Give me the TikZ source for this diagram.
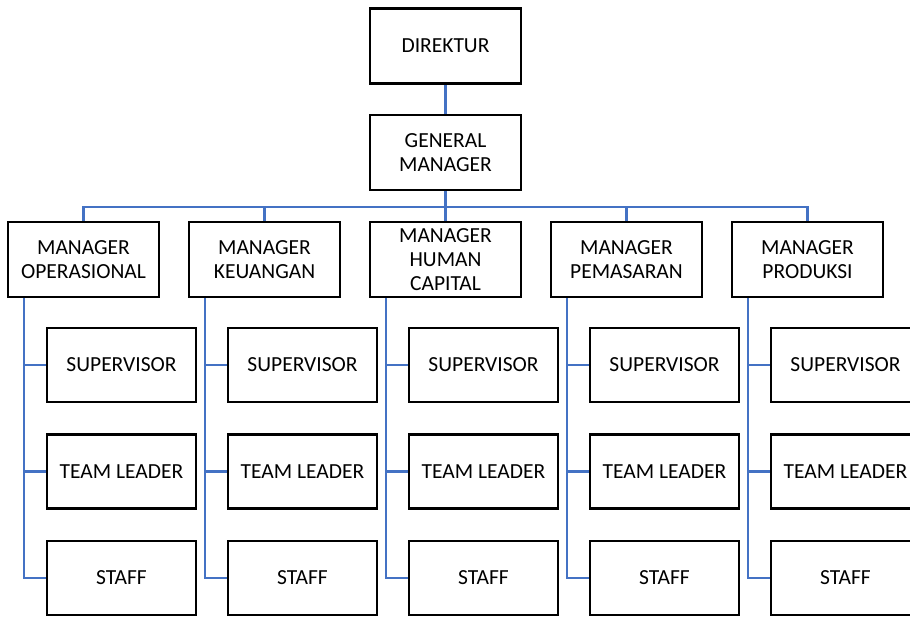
\documentclass[tikz,border=0pt]{standalone}
\usepackage{fontspec}
\setmainfont{Carlito}
\usetikzlibrary{backgrounds}
\definecolor{linkblue}{HTML}{4472C4}
\tikzset{
  box/.style={draw=black, line width=2.8pt, fill=white, minimum width=151pt, minimum height=75pt,
    inner sep=0pt, align=center, font=\fontsize{21.5}{23.8}\selectfont},
  subbox/.style={box, minimum width=149pt, minimum height=74pt},
  link/.style={draw=linkblue, line width=2.4pt}
}
\begin{document}
\begin{tikzpicture}[x=1pt,y=-1pt]
\useasboundingbox (0,0) rectangle (910,616);
\clip (0,0) rectangle (910,616);
\node[box] (dir) at (445.5,46) {DIREKTUR};
\node[box] (gm) at (445.5,152.5) {GENERAL\\MANAGER};
\node[box] (m1) at (83.5,259.5) {MANAGER\\OPERASIONAL};
\node[box] (m2) at (264.5,259.5) {MANAGER\\KEUANGAN};
\node[box] (m3) at (445.5,259.5) {MANAGER\\HUMAN\\CAPITAL};
\node[box] (m4) at (626.5,259.5) {MANAGER\\PEMASARAN};
\node[box] (m5) at (807.5,259.5) {MANAGER\\PRODUKSI};
\coordinate (bus) at (445.5,207);
\foreach \i/\x in {1/83.5,2/264.5,3/445.5,4/626.5,5/807.5}{
  \node[subbox] (sup\i) at (\x+38,365) {SUPERVISOR};
  \node[subbox] (tl\i) at (\x+38,471.5) {TEAM LEADER};
  \node[subbox] (st\i) at (\x+38,578) {STAFF};
  \coordinate (v\i) at ([xshift=-59.5pt]m\i.south);
}
\begin{scope}[on background layer]
\draw[link] (dir.south) -- (gm.south);
\draw[link] (gm.south) -- (m3.north);
\draw[link] (m1.north) |- (bus) -| (m5.north);
\draw[link] (m2.north) -- (m2.north |- bus);
\draw[link] (m4.north) -- (m4.north |- bus);
\foreach \i in {1,...,5}{
  \draw[link] (v\i) |- (st\i.west);
  \draw[link] (v\i |- sup\i.west) -- (sup\i.west);
  \draw[link] (v\i |- tl\i.west) -- (tl\i.west);
}
\end{scope}
\end{tikzpicture}
\end{document}
